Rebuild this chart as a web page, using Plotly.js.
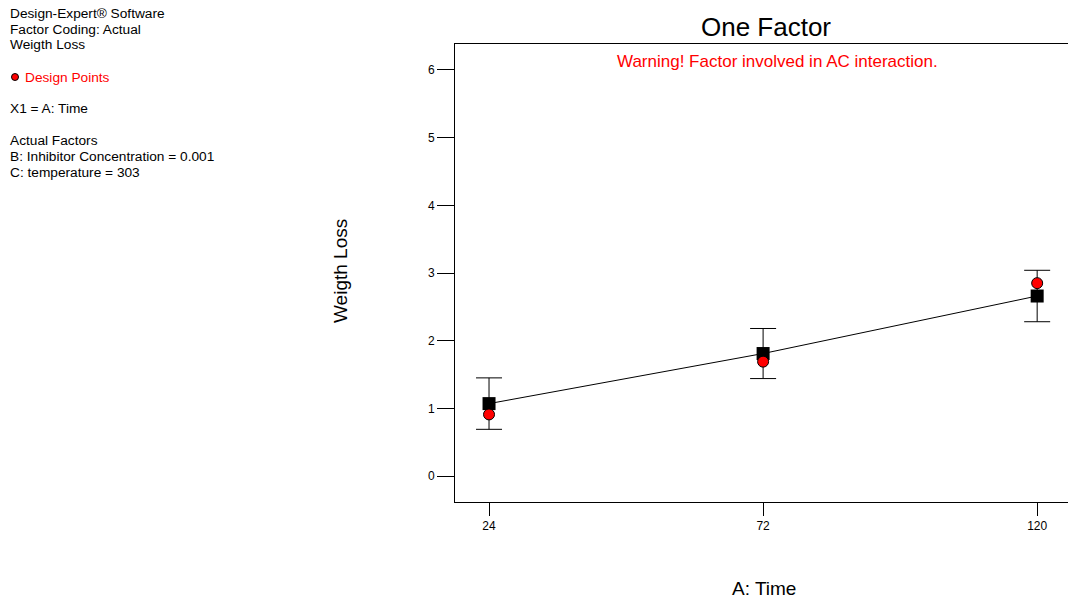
<!DOCTYPE html>
<html><head><meta charset="utf-8">
<script src="https://cdn.plot.ly/plotly-3.0.1.min.js"></script>
<style>html,body{margin:0;padding:0;background:#fff}#c{width:1068px;height:600px}</style>
</head><body><div id="c"></div>
<script>
var timeLevels = [24, 72, 120];
var predicted = [1.07, 1.81, 2.66];
var ciHalf = [0.38, 0.37, 0.38];
var designPoints = [0.91, 1.69, 2.85];
var yTicks = [0, 1, 2, 3, 4, 5, 6];
var infoLines = ["Design-Expert\u00ae Software", "Factor Coding: Actual", "Weigth Loss"];
var factorLines = ["Actual Factors", "B: Inhibitor Concentration = 0.001", "C: temperature = 303"];

var L = 455, T = 44, R = 1068, B = 502;
function px(x){ return (x - L) / (R - L); }
function py(y){ return (B - y) / (B - T); }
var F = "Liberation Sans, Arial, sans-serif";
var SL = 13.7;

var traces = [
  {x: timeLevels, y: predicted, type: 'scatter', mode: 'lines+markers',
   line: {color: '#000', width: 1},
   marker: {symbol: 'square', size: 13, color: '#000'},
   error_y: {type: 'data', array: ciHalf, visible: true, color: '#000', thickness: 1, width: 13},
   showlegend: false},
  {x: timeLevels, y: designPoints, type: 'scatter', mode: 'markers',
   marker: {symbol: 'circle', size: 11, color: '#ff0000', line: {color: '#000', width: 1}},
   showlegend: false}
];

var ann = [];
var ys1 = [14, 29, 45];
infoLines.forEach(function(t, i){
  ann.push({text: t, xref: 'paper', yref: 'paper', x: px(8), y: py(ys1[i]), xanchor: 'left', yanchor: 'middle', showarrow: false, font: {family: F, size: SL, color: '#000'}});
});
ann.push({text: 'Design Points', xref: 'paper', yref: 'paper', x: px(23), y: py(77), xanchor: 'left', yanchor: 'middle', showarrow: false, font: {family: F, size: SL, color: '#ff0000'}});
ann.push({text: 'X1 = A: Time', xref: 'paper', yref: 'paper', x: px(8), y: py(108), xanchor: 'left', yanchor: 'middle', showarrow: false, font: {family: F, size: SL, color: '#000'}});
var ys2 = [140, 156, 172];
factorLines.forEach(function(t, i){
  ann.push({text: t, xref: 'paper', yref: 'paper', x: px(8), y: py(ys2[i]), xanchor: 'left', yanchor: 'middle', showarrow: false, font: {family: F, size: SL, color: '#000'}});
});
ann.push({text: 'Warning! Factor involved in AC interaction.', xref: 'paper', yref: 'paper', x: px(777), y: py(61), xanchor: 'center', yanchor: 'middle', showarrow: false, font: {family: F, size: 17, color: '#ff0000'}});
ann.push({text: 'Weigth Loss', xref: 'paper', yref: 'paper', x: px(340), y: py(271), xanchor: 'center', yanchor: 'middle', textangle: -90, showarrow: false, font: {family: F, size: 19, color: '#000'}});
ann.push({text: 'A: Time', xref: 'paper', yref: 'paper', x: px(764), y: py(588), xanchor: 'center', yanchor: 'middle', showarrow: false, font: {family: F, size: 19, color: '#000'}});

var layout = {
  width: 1068, height: 600,
  margin: {l: L, r: 1068 - R, t: T, b: 600 - B, pad: 0},
  paper_bgcolor: '#fff', plot_bgcolor: '#fff',
  font: {family: F, size: 12, color: '#000'},
  title: {text: 'One Factor', x: px(766), xref: 'paper', y: 1 - 27/600, yanchor: 'middle', xanchor: 'center', font: {family: F, size: 26, color: '#000'}},
  xaxis: {range: [18.04, 125.4], tickvals: timeLevels, ticktext: timeLevels.map(String),
          ticks: 'outside', ticklen: 13, tickcolor: '#000', tickwidth: 1,
          showline: true, linecolor: '#000', linewidth: 1, mirror: true,
          showgrid: false, zeroline: false, tickfont: {family: F, size: 12}},
  yaxis: {range: [-0.384, 6.384], tickvals: yTicks,
          ticks: 'outside', ticklen: 17, tickcolor: '#000', tickwidth: 1,
          showline: true, linecolor: '#000', linewidth: 1,
          showgrid: false, zeroline: false, tickfont: {family: F, size: 12}},
  annotations: ann,
  shapes: [{type: 'circle', xref: 'paper', yref: 'paper', xsizemode: 'pixel', ysizemode: 'pixel',
            xanchor: px(15), yanchor: py(77), x0: -3.5, x1: 3.5, y0: -3.5, y1: 3.5,
            fillcolor: '#ff0000', line: {color: '#000', width: 1}}],
  showlegend: false
};
Plotly.newPlot('c', traces, layout, {displayModeBar: false, staticPlot: true});
</script></body></html>
